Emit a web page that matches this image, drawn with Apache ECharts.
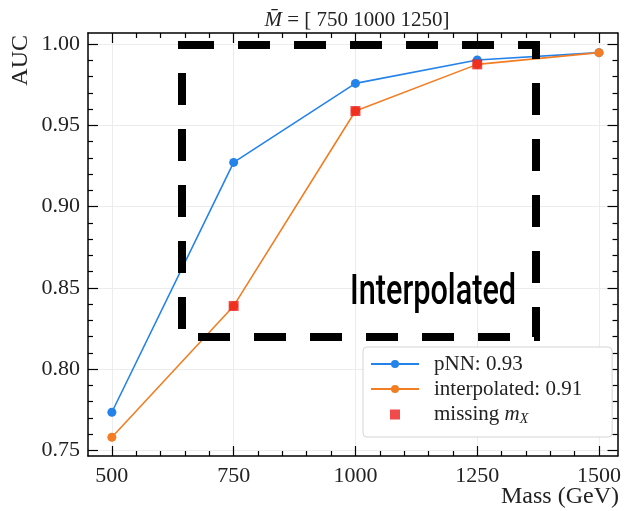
<!DOCTYPE html>
<html>
<head>
<meta charset="utf-8">
<script src="https://cdn.jsdelivr.net/npm/echarts@6/dist/echarts.min.js"></script>
<style>html,body{margin:0;padding:0;background:#fff;}#c{width:624px;height:511px;}</style>
</head>
<body>
<div id="c"></div>
<script>
const MASSES = [500, 750, 1000, 1250, 1500];
const AUC_PNN = [0.7735, 0.9272, 0.9758, 0.9902, 0.9947];
const AUC_INTERP = [0.7581, 0.8389, 0.9588, 0.9875, 0.9947];
const MISSING_MASSES = [750, 1000, 1250];
const AUC_MISSING = [0.8389, 0.9588, 0.9875];
const X_TICKS = [500, 750, 1000, 1250, 1500];
const X_MINOR = [550, 600, 650, 700, 800, 850, 900, 950, 1050, 1100, 1150, 1200, 1300, 1350, 1400, 1450];
const Y_TICKS = [0.75, 0.80, 0.85, 0.90, 0.95, 1.00];
const Y_MINOR = [0.76, 0.77, 0.78, 0.79, 0.81, 0.82, 0.83, 0.84, 0.86, 0.87, 0.88, 0.89,
                 0.91, 0.92, 0.93, 0.94, 0.96, 0.97, 0.98, 0.99];
const X_RANGE = [451, 1538];
const Y_RANGE = [0.7466, 1.0068];
const TITLE = '{m|M\u0304} = [ 750 1000 1250]';
const NAMES = ['pNN: 0.93', 'interpolated: 0.91', 'missing'];

const SERIF = '"Liberation Serif", "DejaVu Serif", serif';
const chart = echarts.init(document.getElementById('c'), null, {renderer: 'canvas'});

function axisBase(pos, isX, major, labels) {
  const o = {
    type: 'value',
    position: pos,
    min: isX ? X_RANGE[0] : Y_RANGE[0],
    max: isX ? X_RANGE[1] : Y_RANGE[1],
    axisLine: {show: major, onZero: false, lineStyle: {color: '#000', width: 1.5}},
    axisTick: {
      show: true, inside: true, length: major ? 10 : 5,
      lineStyle: {color: '#000', width: 1.2},
      customValues: isX ? (major ? X_TICKS : X_MINOR) : (major ? Y_TICKS : Y_MINOR)
    },
    axisLabel: {show: false},
    splitLine: {show: false}
  };
  if (labels) {
    o.axisLabel = {
      show: true,
      customValues: isX ? X_TICKS : Y_TICKS,
      fontFamily: SERIF, fontSize: 22, color: '#222',
      margin: isX ? 9 : 8,
      formatter: isX ? (v => String(v)) : (v => v.toFixed(2))
    };
    o.splitLine = {show: true, lineStyle: {color: '#ececec', width: 1}};
  }
  return o;
}

const option = {
  animation: false,
  backgroundColor: '#fff',
  grid: {left: 88, right: 6, top: 33, bottom: 55, containLabel: false},
  xAxis: [
    axisBase('bottom', true, true, true),
    axisBase('bottom', true, false, false),
    axisBase('top', true, true, false),
    axisBase('top', true, false, false)
  ],
  yAxis: [
    axisBase('left', false, true, true),
    axisBase('left', false, false, false),
    axisBase('right', false, true, false),
    axisBase('right', false, false, false)
  ],
  legend: {
    orient: 'vertical',
    left: 363, top: 347,
    padding: [6, 30, 11, 7],
    backgroundColor: '#fff',
    borderColor: '#d4d4d4', borderWidth: 1, borderRadius: 4,
    itemWidth: 48, itemHeight: 10, itemGap: 3,
    selectedMode: false,
    textStyle: {
      fontFamily: SERIF, fontSize: 21, color: '#222', lineHeight: 22,
      padding: [0, 0, 0, 10],
      rich: {
        t: {fontFamily: SERIF, fontSize: 21, color: '#222', lineHeight: 22},
        i: {fontFamily: SERIF, fontSize: 21, fontStyle: 'italic', color: '#222', lineHeight: 22},
        s: {fontFamily: SERIF, fontSize: 14, fontStyle: 'italic', color: '#222', lineHeight: 22, padding: [9, 0, 0, 0]}
      }
    },
    formatter: name => name === 'missing' ? '{t|missing }{i|m}{s|X}' : name,
    data: [
      {name: NAMES[0]},
      {name: NAMES[1]},
      {name: NAMES[2], icon: 'path://M0,0L10,0L10,10L0,10Z'}
    ]
  },
  series: [
    {
      name: NAMES[0], type: 'line',
      data: MASSES.map((m, i) => [m, AUC_PNN[i]]),
      symbol: 'circle', symbolSize: 9,
      lineStyle: {color: '#2483ea', width: 1.6},
      itemStyle: {color: '#2483ea'},
      emphasis: {disabled: true}, z: 3
    },
    {
      name: NAMES[1], type: 'line',
      data: MASSES.map((m, i) => [m, AUC_INTERP[i]]),
      symbol: 'circle', symbolSize: 9,
      lineStyle: {color: '#f27d22', width: 1.6},
      itemStyle: {color: '#f27d22'},
      emphasis: {disabled: true}, z: 4
    },
    {
      name: NAMES[2], type: 'scatter',
      data: MISSING_MASSES.map((m, i) => [m, AUC_MISSING[i]]),
      symbol: 'rect', symbolSize: 10,
      itemStyle: {color: '#ee1d1d'},
      emphasis: {disabled: true}, z: 5
    }
  ],
  graphic: [
    {
      type: 'text', x: 357, y: 20, z: 10,
      style: {
        text: TITLE, align: 'center', verticalAlign: 'middle',
        fontFamily: SERIF, fontSize: 21, fill: '#222',
        rich: {m: {fontFamily: SERIF, fontSize: 21, fontStyle: 'italic', fill: '#222'}}
      }
    },
    {
      type: 'text', x: 21, y: 35, rotation: Math.PI / 2, z: 10,
      style: {text: 'AUC', align: 'right', verticalAlign: 'middle',
              fontFamily: SERIF, fontSize: 24, fill: '#222'}
    },
    {
      type: 'text', x: 619, y: 497, z: 10,
      style: {text: 'Mass (GeV)', align: 'right', verticalAlign: 'middle',
              fontFamily: SERIF, fontSize: 24, fill: '#222'}
    },
    {
      type: 'rect', z: 20,
      shape: {x: 182, y: 45, width: 354, height: 292},
      style: {fill: null, stroke: '#000', lineWidth: 8, lineDash: [32, 24], lineJoin: 'miter'}
    },
    {
      type: 'text', x: 350, y: 293, z: 20, scaleX: 0.73,
      style: {text: 'Interpolated', align: 'left', verticalAlign: 'middle',
              fontFamily: 'Roboto, "Noto Sans", sans-serif', fontSize: 42, fontWeight: 500, fill: '#000'}
    }
  ]
};
chart.setOption(option);
</script>
</body>
</html>
